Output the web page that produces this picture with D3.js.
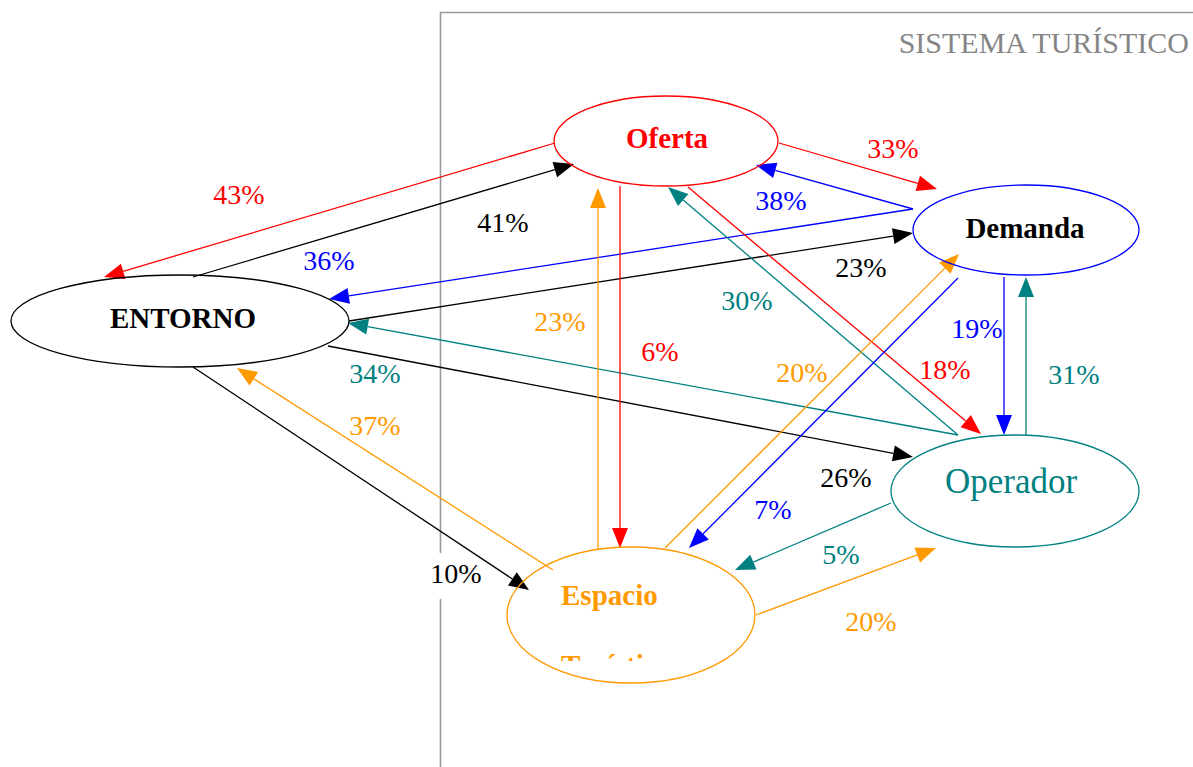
<!DOCTYPE html>
<html>
<head>
<meta charset="utf-8">
<script src="https://cdn.jsdelivr.net/npm/d3@7"></script>
<style>
  html, body { margin: 0; padding: 0; background: #fff; }
  svg { display: block; }
</style>
</head>
<body>
<div id="chart"></div>
<script>
// ---------- DATA ----------
const nodeNames = ["ENTORNO", "Oferta", "Demanda", "Operador", "Espacio Turístico"];
const title = "SISTEMA TURÍSTICO";
// directed flows: source -> target with percentage
const edgeSources = ["Oferta","ENTORNO","Demanda","ENTORNO","Operador","ENTORNO","ENTORNO","Espacio Turístico",
                     "Oferta","Demanda","Oferta","Operador","Oferta","Espacio Turístico","Demanda","Operador",
                     "Demanda","Espacio Turístico","Operador","Espacio Turístico"];
const edgeTargets = ["ENTORNO","Oferta","ENTORNO","Demanda","ENTORNO","Operador","Espacio Turístico","ENTORNO",
                     "Demanda","Oferta","Operador","Oferta","Espacio Turístico","Oferta","Operador","Demanda",
                     "Espacio Turístico","Demanda","Espacio Turístico","Operador"];
const edgeValues  = [43, 41, 36, 23, 34, 26, 10, 37,
                     33, 38, 18, 30, 6, 23, 19, 31,
                     7, 20, 5, 20];

// ---------- LAYOUT (positions & styles) ----------
const W = 1193, H = 767;
const nodeColor = {"ENTORNO":"#000000","Oferta":"#ff0000","Demanda":"#0000ff","Operador":"#008080","Espacio Turístico":"#ff9900"};
const nodeShape = {
  "ENTORNO":           {cx:180,  cy:321, rx:169, ry:46},
  "Oferta":            {cx:666,  cy:141, rx:112, ry:45},
  "Demanda":           {cx:1026, cy:230, rx:113, ry:45},
  "Operador":          {cx:1015, cy:491, rx:124, ry:56},
  "Espacio Turístico": {cx:631,  cy:615, rx:124, ry:68}
};
// edge anchor points [start, arrow tip] and label centre (x, baseline)
const edgeGeom = [
  [[555,143],[104,277],[239,204]],
  [[193,277],[574,164],[503,232]],
  [[913,209],[329,299],[329,270]],
  [[349,321],[913,233],[861,277]],
  [[958,435],[348,323],[375,383]],
  [[328,346],[913,457],[846,487]],
  [[193,367],[529,590],[456,583]],
  [[553,570],[237,368],[375,435]],
  [[779,143],[937,189],[893,158]],
  [[913,209],[756,165],[781,210]],
  [[688,187],[981,434],[945,379]],
  [[958,435],[668,187],[747,310]],
  [[620,186],[620,548],[660,361]],
  [[598,549],[598,188],[560,331]],
  [[1004,277],[1004,435],[977,338]],
  [[1026,435],[1026,277],[1074,384]],
  [[958,278],[689,548],[773,519]],
  [[665,548],[959,254],[802,382]],
  [[891,503],[735,570],[841,564]],
  [[756,615],[936,548],[871,631]]
];

const svg = d3.select("#chart").append("svg")
  .attr("width", W).attr("height", H)
  .style("font-family", "'Liberation Serif', 'Times New Roman', serif");

// system frame
const frameColor = "#9a9a9a";
svg.append("path")
  .attr("d", d3.line()([[W, 12.5], [440.5, 12.5], [440.5, H]]))
  .attr("fill", "none").attr("stroke", frameColor).attr("stroke-width", 1.6);
svg.append("text").attr("x", 1189).attr("y", 53)
  .attr("text-anchor", "end").attr("fill", "#858585")
  .style("font-size", "30px").text(title);
const bgLayer = svg.append("g");

const edges = edgeSources.map((s, i) => ({
  source: s, target: edgeTargets[i], value: edgeValues[i],
  p0: edgeGeom[i][0], p1: edgeGeom[i][1], lab: edgeGeom[i][2]
}));

const arrowLen = 20, arrowHalf = 8;
const eg = svg.append("g");
edges.forEach(e => {
  const col = nodeColor[e.source];
  const [x0, y0] = e.p0, [x1, y1] = e.p1;
  const a = Math.atan2(y1 - y0, x1 - x0);
  const bx = x1 - arrowLen * Math.cos(a), by = y1 - arrowLen * Math.sin(a);
  eg.append("path")
    .attr("d", d3.line()([[x0, y0], [bx, by]]))
    .attr("stroke", col).attr("stroke-width", 1.3).attr("fill", "none");
  const px = -Math.sin(a) * arrowHalf, py = Math.cos(a) * arrowHalf;
  eg.append("path")
    .attr("d", d3.line()([[x1, y1], [bx + px, by + py], [bx - px, by - py]]) + "Z")
    .attr("fill", col).attr("stroke", "none");
});

// nodes
const ng = svg.append("g");
nodeNames.forEach(n => {
  const s = nodeShape[n];
  ng.append("ellipse").attr("cx", s.cx).attr("cy", s.cy).attr("rx", s.rx).attr("ry", s.ry)
    .attr("fill", "none").attr("stroke", nodeColor[n]).attr("stroke-width", 1.3);
});

// node labels
const nl = svg.append("g");
nl.append("text").attr("x", 183).attr("y", 328).attr("text-anchor", "middle")
  .attr("fill", "#000").style("font-weight", "bold").style("font-size", "29px").text("ENTORNO");
nl.append("text").attr("x", 667).attr("y", 148).attr("text-anchor", "middle")
  .attr("fill", nodeColor["Oferta"]).style("font-weight", "bold").style("font-size", "29px").text("Oferta");
nl.append("text").attr("x", 1025).attr("y", 238).attr("text-anchor", "middle")
  .attr("fill", "#000").style("font-weight", "bold").style("font-size", "29px").text("Demanda");
nl.append("text").attr("x", 1011).attr("y", 493).attr("text-anchor", "middle")
  .attr("fill", nodeColor["Operador"]).style("font-size", "35px").text("Operador");
svg.append("clipPath").attr("id", "espClip")
  .append("rect").attr("x", 500).attr("y", 560).attr("width", 220).attr("height", 101);
const espParts = nodeNames[4].split(" ");
nl.append("text").attr("clip-path", "url(#espClip)")
  .attr("fill", nodeColor["Espacio Turístico"]).style("font-weight", "bold").style("font-size", "29px")
  .selectAll("tspan").data(espParts).join("tspan")
  .attr("x", 561).attr("y", (d, i) => 605 + i * 70).text(d => d);

// edge labels
const lg = svg.append("g");
edges.forEach(e => {
  const col = nodeColor[e.source];
  const t = lg.append("text").attr("x", e.lab[0]).attr("y", e.lab[1])
    .attr("text-anchor", "middle").attr("fill", col).style("font-size", "28px")
    .text(e.value + "%");
  if (e.value === 10) {
    const bb = t.node().getBBox();
    bgLayer.append("rect").attr("x", bb.x - 2).attr("y", e.lab[1] - 30)
      .attr("width", bb.width + 4).attr("height", 46).attr("fill", "#fff");
  }
});
</script>
</body>
</html>
